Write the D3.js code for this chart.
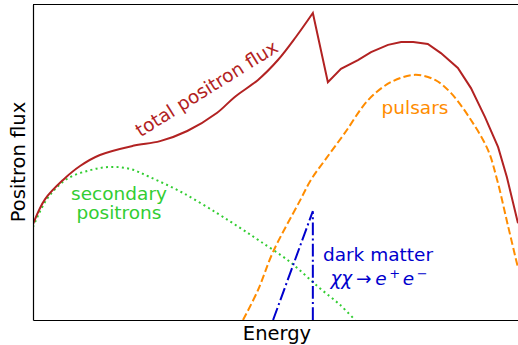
<!DOCTYPE html>
<head>
    <meta charset="utf-8">
    <title>Positron flux</title>
    <script type="text/javascript" src="https://d3js.org/d3.v7.min.js"></script>
    <style>
        body { margin: 0; background: #fff; }
        text { font-family: "DejaVu Sans", sans-serif; }
    </style>
</head>
<body>
<div id="container"></div>
<script>
    //-----------------------------DATA------------------------------//
    // energy / flux in arbitrary units (0..100)
    const totalEnergy = [0, 2.5, 6.2, 9.7, 13.8, 20.6, 26.2, 31.8, 37.9, 41.6, 46.4, 50.5, 54.2, 57.7,
        60.8, 63.5, 67.0, 69.7, 73.2, 75.9, 78.4, 81.4, 84.1, 87.6, 90.3, 93.2, 95.9, 97.7, 100];
    const totalFlux = [30.4, 38.3, 44.4, 48.8, 52.3, 55.2, 56.7, 59.9, 65.6, 70.7, 76.1, 82.4, 89.7, 97.3,
        75.4, 79.6, 82.4, 84.9, 87.2, 88.1, 88.1, 87.5, 84.6, 79.9, 73.5, 64.3, 54.8, 45.3, 30.7];
    const peakIndex = 13; // the sharp spike of the total flux

    const pulsarEnergy = [43.3, 46.4, 49.5, 55.1, 57.3, 60.2, 64.3, 69.1, 73.8, 78.8, 82.9, 86.2,
        90.3, 93.8, 95.7, 97.9, 100];
    const pulsarFlux = [0, 9.5, 21.6, 38.0, 44.4, 50.7, 59.3, 69.7, 75.4, 77.7, 76.1, 71.9,
        63.4, 53.9, 44.4, 30.1, 16.5];

    const secondaryEnergy = [0, 2.9, 7.0, 11.8, 15.9, 20.0, 24.1, 30.9, 37.9, 42.7, 46.8, 53.0, 58.8, 63.3, 66.4];
    const secondaryFlux = [29.5, 38.4, 44.7, 47.5, 48.5, 47.9, 45.3, 40.3, 33.9, 29.2, 25.0, 18.4, 10.5, 4.8, 0];

    const darkEnergy = [49.5, 57.7, 57.7];
    const darkFlux = [0, 34.5, 0];

    //----------------------------SVG--------------------------------//
    const width = 518;
    const height = 345;
    const margin = {top: 4.5, right: 0, bottom: 25, left: 33};

    const svg = d3.select("div#container").append("svg")
        .attr("width", width)
        .attr("height", height);

    //---------------------------SCALES------------------------------//
    const xScale = d3.scaleLinear().domain([0, 100]).range([margin.left, width - margin.right]);
    const yScale = d3.scaleLinear().domain([0, 100]).range([height - margin.bottom, margin.top]);

    const zip = (xs, ys) => xs.map((x, i) => [x, ys[i]]);

    const lineLin = d3.line()
        .x(d => xScale(d[0]))
        .y(d => yScale(d[1]));
    const lineSmooth = d3.line()
        .curve(d3.curveCatmullRom.alpha(0.5))
        .x(d => xScale(d[0]))
        .y(d => yScale(d[1]));

    svg.append("clipPath").attr("id", "plot")
        .append("rect")
        .attr("x", margin.left)
        .attr("y", margin.top)
        .attr("width", width - margin.left - margin.right)
        .attr("height", height - margin.top - margin.bottom);

    //----------------------------LINES------------------------------//
    const g = svg.append("g").attr("clip-path", "url(#plot)");

    g.append("path")
        .attr("d", lineSmooth(zip(secondaryEnergy, secondaryFlux)))
        .attr("fill", "none")
        .attr("stroke", "#32cd32")
        .attr("stroke-width", 2)
        .attr("stroke-dasharray", "2,3.3");

    g.append("path")
        .attr("d", lineSmooth(zip(pulsarEnergy, pulsarFlux)))
        .attr("fill", "none")
        .attr("stroke", "#ff8c00")
        .attr("stroke-width", 2)
        .attr("stroke-dasharray", "7.4,3.2");

    g.append("path")
        .attr("d", lineLin(zip(darkEnergy, darkFlux)))
        .attr("fill", "none")
        .attr("stroke", "#0000cd")
        .attr("stroke-width", 2)
        .attr("stroke-dasharray", "12.8,3.2,2,3.2");

    // total flux: smooth rise up to the spike, straight segments after it
    const total = zip(totalEnergy, totalFlux);
    const totalPath = lineSmooth(total.slice(0, peakIndex + 1)) +
        lineLin(total.slice(peakIndex)).replace(/^M/, "L");
    g.append("path")
        .attr("d", totalPath)
        .attr("fill", "none")
        .attr("stroke", "#b22222")
        .attr("stroke-width", 2)
        .attr("stroke-linejoin", "miter");

    //----------------------------FRAME------------------------------//
    const yAxis = d3.axisLeft(yScale).tickValues([]).tickSizeOuter(0);
    const xAxis = d3.axisBottom(xScale).tickValues([]).tickSizeOuter(0);

    svg.append("g")
        .attr("transform", `translate(${margin.left},0)`)
        .call(yAxis)
        .select(".domain").attr("stroke", "#000").attr("stroke-width", 1.2);
    svg.append("g")
        .attr("transform", `translate(0,${height - margin.bottom})`)
        .call(xAxis)
        .select(".domain").attr("stroke", "#000").attr("stroke-width", 1.2);
    svg.append("line")
        .attr("x1", margin.left).attr("x2", width)
        .attr("y1", margin.top).attr("y2", margin.top)
        .attr("stroke", "#000").attr("stroke-width", 1.2);

    //----------------------------LABELS-----------------------------//
    svg.append("text")
        .attr("x", 277)
        .attr("y", 340)
        .attr("text-anchor", "middle")
        .style("font-size", "19.5px")
        .text("Energy");

    svg.append("text")
        .attr("transform", `translate(25,162) rotate(-90)`)
        .attr("text-anchor", "middle")
        .style("font-size", "19.5px")
        .text("Positron flux");

    svg.append("text")
        .attr("transform", "translate(210,94) rotate(-32)")
        .attr("text-anchor", "middle")
        .attr("fill", "#b22222")
        .style("font-size", "18.5px")
        .text("total positron flux");

    svg.append("text")
        .attr("x", 415).attr("y", 114)
        .attr("text-anchor", "middle")
        .attr("fill", "#ff8c00")
        .style("font-size", "18.5px")
        .text("pulsars");

    const sec = svg.append("text")
        .attr("text-anchor", "middle")
        .attr("fill", "#32cd32")
        .style("font-size", "18.5px");
    sec.append("tspan").attr("x", 119).attr("y", 200).text("secondary");
    sec.append("tspan").attr("x", 119).attr("y", 219).text("positrons");

    const dm = svg.append("text")
        .attr("text-anchor", "middle")
        .attr("fill", "#0000cd")
        .style("font-size", "18.5px");
    dm.append("tspan").attr("x", 378).attr("y", 261).text("dark matter");

    const eq = svg.append("text")
        .attr("x", 379).attr("y", 285)
        .attr("text-anchor", "middle")
        .attr("fill", "#0000cd")
        .style("font-size", "18.5px");
    eq.append("tspan").style("font-style", "italic").text("χχ");
    eq.append("tspan").text("\u2009→\u2009");
    eq.append("tspan").style("font-style", "italic").text("e");
    eq.append("tspan").attr("dy", -7).style("font-size", "13px").text("\u2009+\u2009");
    eq.append("tspan").attr("dy", 7).style("font-style", "italic").text("e");
    eq.append("tspan").attr("dy", -7).style("font-size", "13px").text("\u2009−");
</script>
</body>
</html>
